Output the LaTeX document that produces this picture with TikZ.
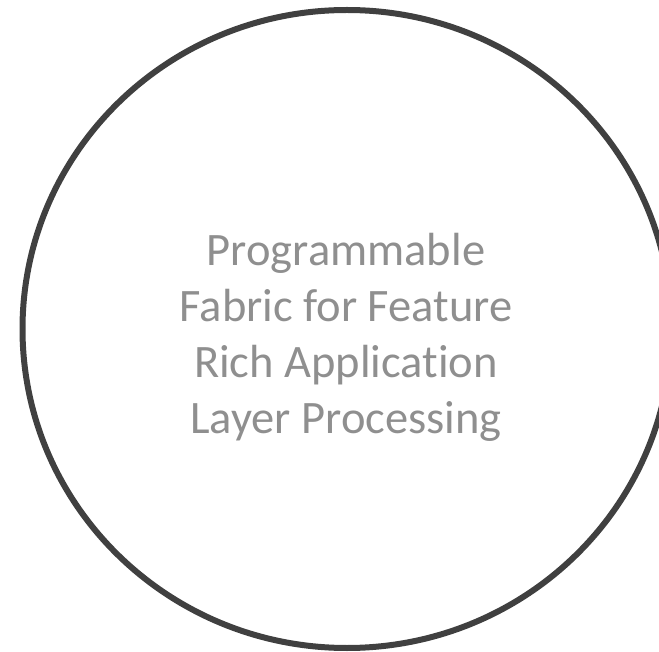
\documentclass[tikz,border=0pt]{standalone}
\usepackage{fontspec}
\setmainfont[Ligatures=NoCommon]{Carlito}
\definecolor{ringgray}{HTML}{404040}
\definecolor{textgray}{HTML}{8F8F8F}
\usetikzlibrary{shapes.geometric}
\tikzset{
  ring/.style={draw=ringgray, line width=6pt, ellipse, minimum width=649pt, minimum height=638pt, inner sep=0pt},
  label/.style={text=textgray, font=\fontsize{46.5pt}{56pt}\selectfont, align=center}
}
\begin{document}
\begin{tikzpicture}[x=1pt,y=-1pt]
\useasboundingbox (0,0) rectangle (659,652);
\node[ring] (circle) at (347,329) {};
\node[label] (txt) at (346,337.5) {Programmable\\Fabric for Feature\\Rich Application\\Layer Processing};
\end{tikzpicture}
\end{document}
